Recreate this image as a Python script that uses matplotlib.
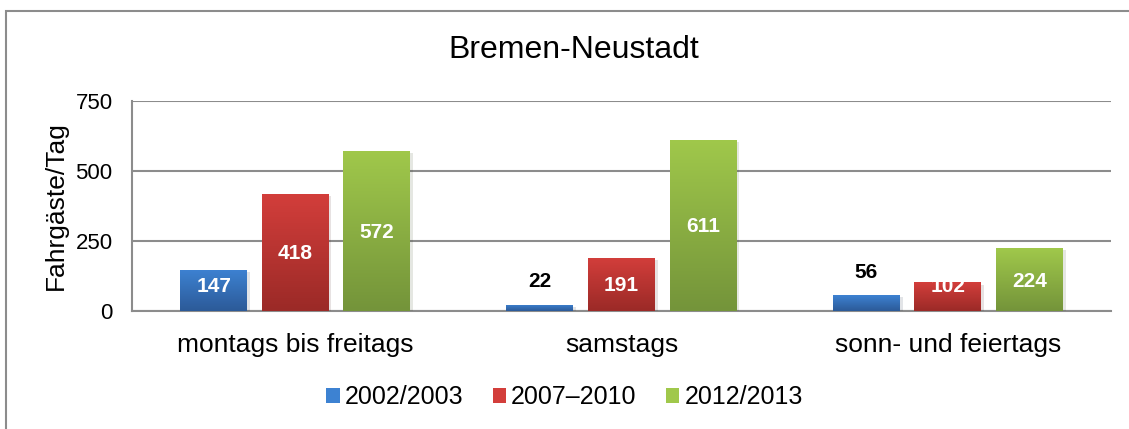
import numpy as np
import matplotlib
matplotlib.use('Agg')
from matplotlib import pyplot as plt
from matplotlib.patches import Patch, Rectangle
from matplotlib.colors import LinearSegmentedColormap
import matplotlib.patheffects as pe

plt.rcParams['font.family'] = ['Liberation Sans', 'DejaVu Sans']

categories = ['montags bis freitags', 'samstags', 'sonn- und feiertags']
series = ['2002/2003', '2007\u20132010', '2012/2013']
values = [
    [147, 22, 56],
    [418, 191, 102],
    [572, 611, 224],
]
yticks = [0, 250, 500, 750]

# top colour, bottom colour of each gradient
colors = [('#3d82d2', '#2c5a98'), ('#d33e3b', '#9b2a27'), ('#a0c84b', '#74943a')]

fig = plt.figure(figsize=(11.29, 4.29), dpi=100)
ax = fig.add_axes([0.1169, 0.275, 0.8672, 0.4896])

# outer chart border
fig.patches.append(Rectangle((6 / 1129, -0.1), 1.2, 1 - 11 / 429 + 0.1,
                             transform=fig.transFigure, fill=False,
                             edgecolor='#8c8c8c', linewidth=1.5))

x = np.arange(len(categories))
width = 0.205
offsets = [-0.25, 0, 0.25]

ax.set_xlim(-0.5, 2.5)
ax.set_ylim(0, 750)

for i, vals in enumerate(values):
    cmap = LinearSegmentedColormap.from_list('g%d' % i, [colors[i][1], colors[i][0]])
    bars = ax.bar(x + offsets[i], vals, width, color=colors[i][0], zorder=3,
                  path_effects=[pe.SimplePatchShadow(offset=(2, -1.5), alpha=0.12), pe.Normal()])
    for b, v in zip(bars, vals):
        x0, y0 = b.get_x(), b.get_y()
        grad = np.linspace(0, 1, 100).reshape(-1, 1)
        im = ax.imshow(grad, cmap=cmap, origin='lower', aspect='auto',
                       extent=(x0, x0 + b.get_width(), y0, y0 + b.get_height()),
                       zorder=4)
        im.set_clip_path(b)
        if v < 80:
            ax.text(b.get_x() + b.get_width() / 2, v + 82, str(v), ha='center', va='center',
                    fontsize=15, fontweight='bold', color='black', zorder=5)
        else:
            ax.text(b.get_x() + b.get_width() / 2, max(v / 2 - 5, 86), str(v), ha='center',
                    va='center', fontsize=15, fontweight='bold', color='white', zorder=5)

ax.set_xlim(-0.5, 2.5)
ax.set_ylim(0, 750)
ax.set_yticks(yticks)
ax.set_yticklabels([str(t) for t in yticks], fontsize=16)
ax.set_xticks(x)
ax.set_xticklabels(categories, fontsize=19)
ax.tick_params(axis='both', length=0)
ax.tick_params(axis='y', pad=14)
ax.tick_params(axis='x', pad=16)
ax.grid(axis='y', color='#8c8c8c', linewidth=1.5, zorder=0)
ax.set_axisbelow(True)
for s in ['top', 'right']:
    ax.spines[s].set_visible(False)
for s in ['left', 'bottom']:
    ax.spines[s].set_color('#8c8c8c')
    ax.spines[s].set_linewidth(1.5)
ax.set_ylabel('Fahrg\u00e4ste/Tag', fontsize=19)
ax.yaxis.set_label_coords(-0.065, 0.5)

fig.text(0.508, 0.883, 'Bremen-Neustadt', ha='center', va='center', fontsize=23)

handles = [Patch(facecolor=c[0]) for c in colors]
fig.legend(handles, series, loc='center', bbox_to_anchor=(0.5, 1 - 397 / 429), ncol=3,
           frameon=False, fontsize=18, handlelength=0.55, handleheight=0.55,
           handletextpad=0.2, columnspacing=1.15)

fig.savefig('out.png', dpi=100)
